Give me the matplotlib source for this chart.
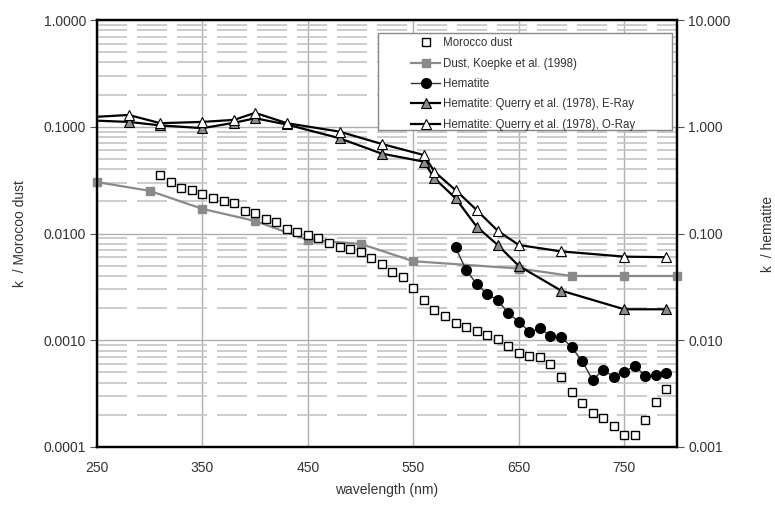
import numpy as np
import matplotlib
matplotlib.use("Agg")
import matplotlib.pyplot as plt
from matplotlib.patches import Rectangle
from matplotlib.ticker import FixedLocator, LogLocator, NullFormatter

# Morocco dust (left axis)
wl_morocco = [310, 320, 330, 340, 350, 360, 370, 380, 390, 400, 410, 420, 430, 440, 450,
              460, 470, 480, 490, 500, 510, 520, 530, 540, 550, 560, 570, 580, 590, 600,
              610, 620, 630, 640, 650, 660, 670, 680, 690, 700, 710, 720, 730, 740, 750,
              760, 770, 780, 790]
k_morocco = [0.0353, 0.0302, 0.0269, 0.0255, 0.0233, 0.0216, 0.0201, 0.0192, 0.0163, 0.0155,
             0.0136, 0.0129, 0.0111, 0.0104, 0.0097, 0.0090, 0.0082, 0.0075, 0.0072, 0.0067,
             0.0059, 0.0052, 0.0044, 0.0039, 0.0031, 0.0024, 0.0019, 0.0017, 0.00144, 0.00132,
             0.00123, 0.00112, 0.00103, 0.00088, 0.00076, 0.00071, 0.00070, 0.00060, 0.00045, 0.00033,
             0.00026, 0.00021, 0.000188, 0.000157, 0.000129, 0.000129, 0.000179, 0.000262, 0.000349]

# Koepke et al. (1998) dust (left axis)
wl_koepke = [250, 300, 350, 400, 450, 500, 550, 650, 700, 750, 800]
k_koepke = [0.0303, 0.0251, 0.0170, 0.0131, 0.0087, 0.0080, 0.0055, 0.0047, 0.0040, 0.0040, 0.0040]

# Hematite (right axis)
wl_hem = [590, 600, 610, 620, 630, 640, 650, 660, 670, 680, 690, 700, 710, 720, 730,
          740, 750, 760, 770, 780, 790]
k_hem = [0.0742, 0.0455, 0.0337, 0.0271, 0.0238, 0.0179, 0.0149, 0.0120, 0.0129, 0.0110,
         0.0108, 0.0086, 0.0064, 0.00425, 0.00526, 0.00456, 0.00508, 0.00574, 0.00462, 0.00472, 0.00490]

# Querry et al. (1978) (right axis)
wl_querry = [250, 280, 310, 350, 380, 400, 430, 480, 520, 560, 570, 590, 610, 630, 650, 690, 750, 790]
k_eray = [1.14, 1.11, 1.03, 0.97, 1.09, 1.20, 1.05, 0.78, 0.56, 0.471, 0.329, 0.214, 0.116, 0.078,
          0.0497, 0.0292, 0.0195, 0.0195]
k_oray = [1.24, 1.29, 1.08, 1.11, 1.16, 1.35, 1.08, 0.90, 0.69, 0.543, 0.379, 0.255, 0.166, 0.106,
          0.078, 0.068, 0.0607, 0.060]

xticks = [250, 350, 450, 550, 650, 750]
left_ticks = [1e-4, 1e-3, 1e-2, 1e-1, 1]
left_labels = ["0.0001", "0.0010", "0.0100", "0.1000", "1.0000"]
right_ticks = [1e-3, 1e-2, 1e-1, 1, 10]
right_labels = ["0.001", "0.010", "0.100", "1.000", "10.000"]

plt.rcParams['font.family'] = ['Liberation Sans', 'DejaVu Sans']
txt = '#333333'

fig = plt.figure(figsize=(7.75, 5.12), dpi=100)
ax = fig.add_axes([97/775, 65/512, 580/775, 427/512])
ax.set_xlim(250, 800)
ax.set_yscale('log')
ax.set_ylim(1e-4, 1)

# grid
ax.xaxis.set_major_locator(FixedLocator(xticks))
ax.yaxis.set_major_locator(FixedLocator(left_ticks))
ax.yaxis.set_minor_locator(LogLocator(base=10, subs=np.arange(2, 10)))
ax.yaxis.set_minor_formatter(NullFormatter())
ax.set_yticklabels(left_labels)
ax.grid(axis='x', which='major', color='#b0b0b0', lw=1.0)
ax.grid(axis='y', which='major', color='#b0b0b0', lw=1.0)
ax.grid(axis='y', which='minor', color='#c4c4c4', lw=1.2, ls=(0, (18, 6)))
ax.tick_params(axis='y', which='minor', length=0)
ax.tick_params(axis='y', which='major', length=5, color='#555555', labelsize=10, labelcolor=txt, pad=3)
ax.tick_params(axis='x', which='major', length=0, labelsize=10, labelcolor=txt, pad=10)

for s in ax.spines.values():
    s.set_linewidth(1.6)
    s.set_color('black')

ax.set_xlabel('wavelength (nm)', fontsize=10, color=txt, labelpad=6)
ax.set_ylabel('k  / Morocoo dust', fontsize=10, color=txt, labelpad=12)

h1, = ax.plot(wl_morocco, k_morocco, ls='none', marker='s', ms=6.3, mfc='white', mec='black',
              mew=1.0, label='Morocco dust', zorder=4)
h2, = ax.plot(wl_koepke, k_koepke, color='#8a8a8a', lw=1.6, marker='s', ms=6, mfc='#8a8a8a',
              mec='#8a8a8a', label='Dust, Koepke et al. (1998)', zorder=3, clip_on=False)

ax2 = ax.twinx()
ax2.set_yscale('log')
ax2.set_ylim(1e-3, 10)
ax2.yaxis.set_major_locator(FixedLocator(right_ticks))
ax2.yaxis.set_minor_locator(FixedLocator([]))
ax2.set_yticklabels(right_labels)
ax2.tick_params(axis='y', which='major', length=5, color='#555555', labelsize=10, labelcolor=txt, pad=3)
ax2.set_ylabel('k  / hematite', fontsize=10, color=txt, labelpad=22)
for s in ax2.spines.values():
    s.set_linewidth(1.6)
    s.set_color('black')

h3, = ax2.plot(wl_hem, k_hem, color='#333333', lw=1.0, marker='o', ms=7, mfc='black', mec='black',
               label='Hematite', zorder=5)
h4, = ax2.plot(wl_querry, k_eray, color='black', lw=1.6, marker='^', ms=7, mfc='#8c8c8c', mec='black',
               mew=0.8, markevery=slice(1, None), label='Hematite: Querry et al. (1978), E-Ray', zorder=4)
h5, = ax2.plot(wl_querry, k_oray, color='black', lw=1.6, marker='^', ms=7, mfc='white', mec='black',
               mew=0.8, markevery=slice(1, None), label='Hematite: Querry et al. (1978), O-Ray', zorder=4)

# legend box (Excel style: wide frame, entries indented)
box = Rectangle((378/775, 1 - 130/512), 294/775, 97/512, transform=fig.transFigure,
                facecolor='white', edgecolor='#888888', lw=1.0, zorder=6)
ax2.add_artist(box)
leg = ax2.legend(handles=[h1, h2, h3, h4, h5], loc='upper left',
                 bbox_to_anchor=(408/775, 1 - 34/512), bbox_transform=fig.transFigure,
                 fontsize=8.3, frameon=False, handlelength=2.5, handletextpad=0.25,
                 labelspacing=0.72, borderpad=0.3, borderaxespad=0)
leg.set_zorder(7)
for t in leg.get_texts():
    t.set_color(txt)

fig.savefig('out.png', dpi=100)
